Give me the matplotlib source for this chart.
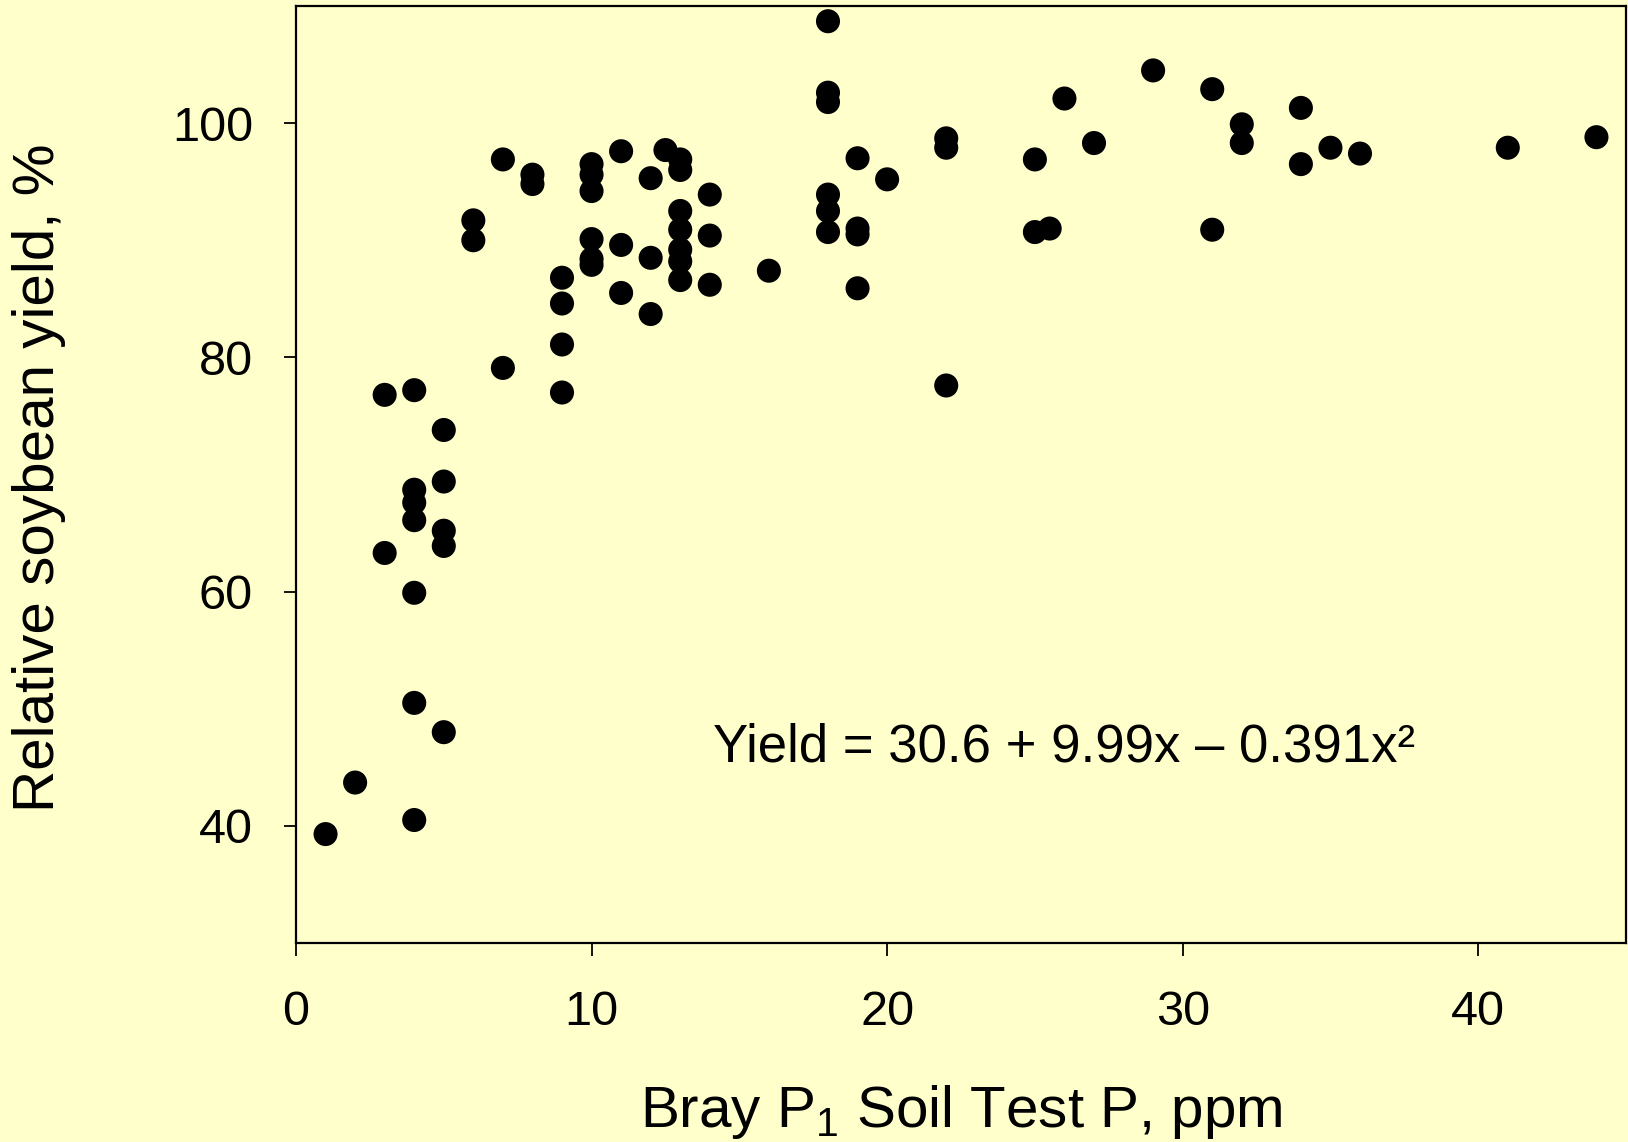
import matplotlib
matplotlib.use('Agg')
import matplotlib.pyplot as plt
import numpy as np

# Soil test P (ppm) and relative soybean yield (%)
soil_p = [1, 2, 3, 3,
          4, 4, 4, 4, 4, 4, 4,
          5, 5, 5, 5, 5,
          6, 6, 7, 7, 8, 8,
          9, 9, 9, 9,
          10, 10, 10, 10, 10, 10,
          11, 11, 11, 12, 12, 12, 12.5,
          13, 13, 13, 13, 13, 13, 13,
          14, 14, 14, 16,
          18, 18, 18, 18, 18, 18,
          19, 19, 19, 19, 20,
          22, 22, 22, 25, 25, 25.5, 26, 27, 29,
          31, 31, 32, 32, 34, 34, 35, 36, 41, 44]
rel_yield = [39.3, 43.7, 76.8, 63.3,
             77.2, 68.7, 67.6, 66.1, 59.9, 50.5, 40.5,
             73.8, 69.4, 65.2, 63.9, 48.0,
             91.7, 90.0, 96.9, 79.1, 95.6, 94.8,
             86.8, 84.6, 81.1, 77.0,
             96.5, 95.6, 94.2, 90.1, 88.4, 87.9,
             97.6, 89.6, 85.5, 95.3, 88.5, 83.7, 97.7,
             96.9, 96.0, 92.5, 90.9, 89.2, 88.2, 86.6,
             93.9, 90.4, 86.2, 87.4,
             108.7, 102.6, 101.8, 93.9, 92.5, 90.7,
             97.0, 91.0, 90.5, 85.9, 95.2,
             98.7, 97.9, 77.6, 96.9, 90.7, 91.0, 102.1, 98.3, 104.5,
             102.9, 90.9, 99.9, 98.3, 101.3, 96.5, 97.9, 97.4, 97.9, 98.8]

x_ticks = [0, 10, 20, 30, 40]
y_ticks = [40, 60, 80, 100]
equation = 'Yield = 30.6 + 9.99x \u2013 0.391x\u00b2'

bg = '#FFFFCC'
plt.rcParams['font.family'] = ['Liberation Sans', 'DejaVu Sans']
plt.rcParams['mathtext.fontset'] = 'custom'
plt.rcParams['mathtext.rm'] = 'Liberation Sans'
plt.rcParams['mathtext.it'] = 'Liberation Sans'

fig = plt.figure(figsize=(16.28, 11.42), dpi=100, facecolor=bg)
ax = fig.add_axes([296/1628, 1 - 943/1142, (1626 - 296)/1628, (943 - 6)/1142])
ax.set_facecolor(bg)

ax.scatter(soil_p, rel_yield, s=300, c='black', edgecolors='none',
           zorder=3, clip_on=False)

ax.set_xlim(0, 45)
ax.set_ylim(30, 110)
ax.set_xticks(x_ticks)
ax.set_yticks(y_ticks)
ax.tick_params(axis='both', direction='out', length=9, width=1.3,
               labelsize=35, colors='black')
ax.tick_params(axis='x', pad=25)
ax.tick_params(axis='y', pad=22)
for sp in ax.spines.values():
    sp.set_linewidth(1.6)

ax.set_xlabel(r'Bray P$_1$ Soil Test P, ppm', fontsize=42, va='baseline')
ax.xaxis.set_label_coords(0.5, (943 - 1127) / 937)
ax.set_ylabel('Relative soybean yield, %', fontsize=42)
ax.yaxis.set_label_coords((66 - 296) / 1330, 0.497)

ax.text(14.12, 45.5, equation, fontsize=38, ha='left', va='baseline')

fig.savefig('out.png', dpi=100, facecolor=bg)
